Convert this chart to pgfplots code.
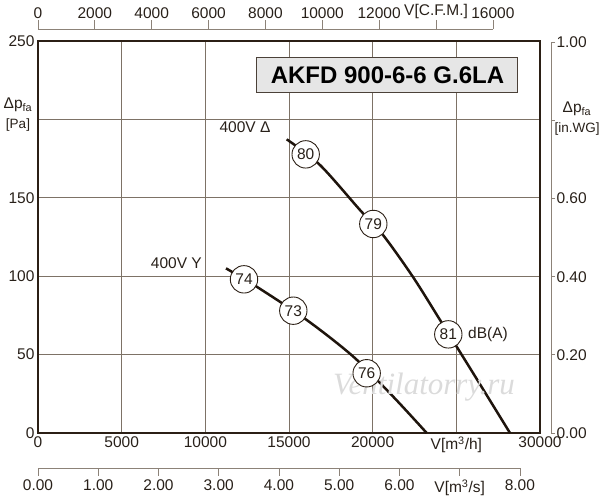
\documentclass[border=0pt]{standalone}
\usepackage{fontspec}
\setmainfont{Liberation Sans}
\newfontfamily\wmfont{Liberation Serif}
\usepackage{pgfplots}
\pgfplotsset{compat=1.18}
\definecolor{frame}{RGB}{43,31,21}
\definecolor{gridc}{RGB}{125,114,102}
\definecolor{axc}{RGB}{140,130,120}
\definecolor{txt}{RGB}{40,32,25}
\definecolor{curve}{RGB}{30,20,12}
\definecolor{boxfill}{RGB}{230,230,230}
\newcommand{\tf}{\fontsize{15.5}{18}\selectfont}
\newcommand{\smf}{\fontsize{13.5}{15}\selectfont}
\begin{document}
\begin{tikzpicture}
\useasboundingbox (-38pt,-67pt) rectangle (562pt,433pt);
% right in.WG axis
\begin{axis}[
  at={(0pt,0pt)}, anchor=south west,
  scale only axis, width=513pt, height=390.6pt,
  xmin=0, xmax=1, ymin=0, ymax=1,
  axis y line*=right, hide x axis,
  ytick={0,0.2,0.4,0.6,0.8,1},
  yticklabels={0.00,0.20,0.40,0.60,{},1.00},
  tick align=outside, major tick length=4pt,
  tick style={axc, line width=0.8pt},
  axis line style={axc, line width=0.8pt},
  tick label style={font=\tf, text=txt},
  yticklabel style={xshift=-2pt},
]
\end{axis}
% top CFM axis
\begin{axis}[
  at={(0pt,404pt)}, anchor=north west,
  scale only axis, width=454.9pt, height=10pt,
  xmin=0, xmax=16000, ymin=0, ymax=1,
  axis x line*=top, hide y axis,
  scaled x ticks=false,
  xtick={0,2000,4000,6000,8000,10000,12000,14000,16000},
  xticklabels={0,2000,4000,6000,8000,10000,12000,{V[C.F.M.]},16000},
  tick align=outside, major tick length=9pt,
  tick style={axc, line width=0.8pt},
  axis line style={axc, line width=0.8pt},
  tick label style={font=\tf, text=txt},
  xticklabel style={yshift=-2pt},
]
\end{axis}
% bottom m3/s axis
\begin{axis}[
  at={(0pt,-35pt)}, anchor=south west,
  scale only axis, width=481.9pt, height=10pt,
  xmin=0, xmax=8, ymin=0, ymax=1,
  axis x line*=bottom, hide y axis,
  xtick={0,1,2,3,4,5,6,7,8},
  xticklabels={0.00,1.00,2.00,3.00,4.00,5.00,6.00,{V[m\textsuperscript{3}/s]},8.00},
  tick align=outside, major tick length=8pt,
  tick style={axc, line width=0.8pt},
  axis line style={axc, line width=0.8pt},
  tick label style={font=\tf, text=txt},
]
\end{axis}
% main axis
\begin{axis}[
  at={(0pt,0pt)}, anchor=south west,
  scale only axis, width=502pt, height=392pt,
  xmin=0, xmax=30000, ymin=0, ymax=250,
  scaled ticks=false,
  xtick={0,5000,10000,15000,20000,25000,30000},
  xticklabels={0,5000,10000,15000,20000,{V[m\textsuperscript{3}/h]},30000},
  ytick={0,50,100,150,200,250},
  yticklabels={0,50,100,150,{},250},
  major tick length=0pt,
  grid=major, grid style={gridc, line width=0.8pt},
  axis line style={frame, line width=2.5pt},
  tick label style={font=\tf, text=txt},
  clip=false,
]
\addplot[curve, line width=2.5pt, smooth] coordinates {
  (14863,187.3) (16853,170.9) (19243,142.2) (20618,126.3)
  (22410,99.5) (24024,72.1) (25996,38.3) (28207,0)};
\addplot[curve, line width=2.5pt, smooth] coordinates {
  (11235,105.0) (13070,93.3) (16058,72.1) (18843,48.7)
  (21233,23.1) (23229,0)};
\addplot[only marks, mark=*, mark size=13.7pt,
  mark options={fill=white, draw=frame, line width=0.9pt},
  nodes near coords, point meta=explicit symbolic,
  every node near coord/.style={anchor=center, font=\tf, text=txt}]
  coordinates {
  (15998,177.7) [80] (20038,133.3) [79] (24520,62.9) [81]
  (12311,98.0) [74] (15257,78.0) [73] (19643,38.1) [76]};
\node[anchor=east, font=\tf, text=txt] at (axis cs:14100,195) {400V Δ};
\node[anchor=east, font=\tf, text=txt] at (axis cs:10000,108.4) {400V Y};
\node[anchor=west, font=\tf, text=txt] at (axis cs:25500,62.9) {dB(A)};
\node[font=\wmfont\itshape\fontsize{31}{34}\selectfont, text=gray!28] at (axis cs:23068,29.3) {Ventilatorry.ru};
\node[draw=frame!85, fill=boxfill, line width=1pt, minimum width=261pt, minimum height=35pt, inner sep=0pt,
  font=\bfseries\fontsize{24}{28}\selectfont, text=black] at (axis cs:20886,228) {AKFD 900-6-6 G.6LA};
\end{axis}
\node[align=center, font=\tf, text=txt, inner sep=0pt] at (-20pt,318pt) {Δp\textsubscript{fa}\\[2pt]{\smf[Pa]}};
\node[align=center, font=\tf, text=txt, inner sep=0pt] at (539pt,314.5pt) {Δp\textsubscript{fa}\\[2pt]{\smf[in.WG]}};
\end{tikzpicture}
\end{document}
